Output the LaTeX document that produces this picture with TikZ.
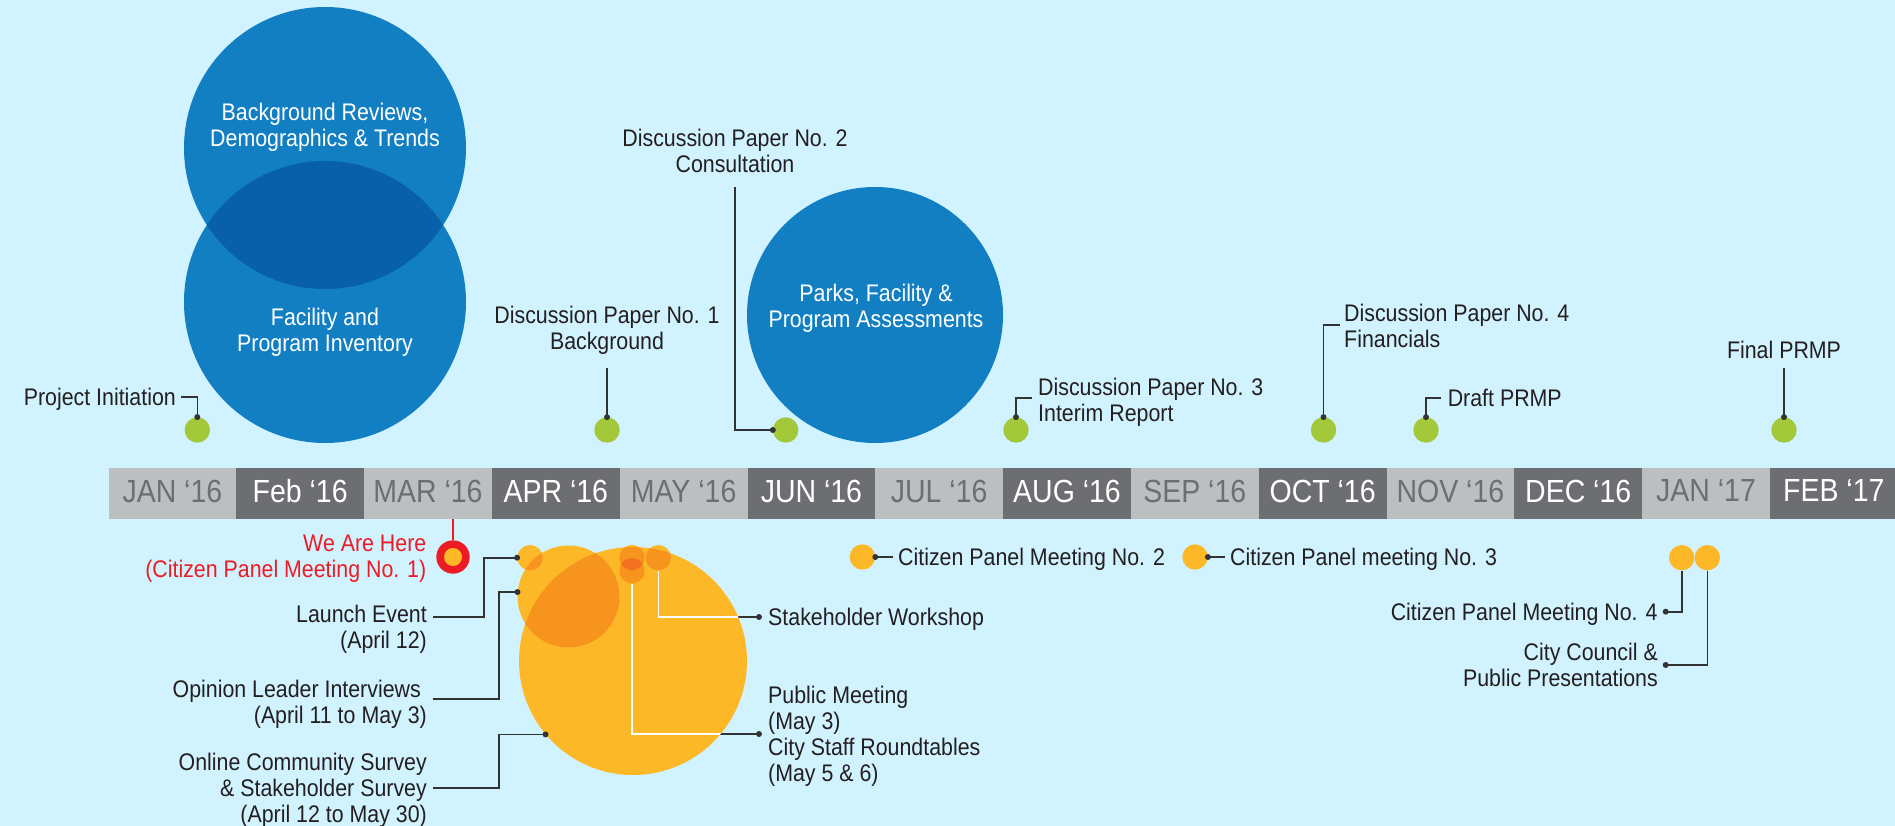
\documentclass[tikz,border=0pt]{standalone}
\usepackage{fontspec}
\setmainfont{Liberation Sans}[FakeStretch=0.89]
\definecolor{bgc}{HTML}{D1F2FF}
\definecolor{blu}{HTML}{127FC3}
\definecolor{blud}{HTML}{0760A9}
\definecolor{grn}{HTML}{A3C93A}
\definecolor{yel}{HTML}{FDB827}
\definecolor{org}{HTML}{F7941D}
\definecolor{orgd}{HTML}{F37021}
\definecolor{barL}{HTML}{BCBEC0}
\definecolor{barD}{HTML}{6D6E71}
\definecolor{redc}{HTML}{ED1C24}
\definecolor{ink}{HTML}{231F20}
\definecolor{linec}{HTML}{333333}
\begin{document}
\begin{tikzpicture}[x=1pt,y=-1pt,
  lbl/.style={font=\fontsize{24}{26}\selectfont, inner sep=0pt, text=ink},
  mon/.style={font=\fontsize{32}{36}\selectfont, inner sep=0pt, anchor=north},
  gdot/.style={circle, fill=grn, minimum size=25.4pt, inner sep=0pt},
  ydot/.style={circle, fill=yel, minimum size=25.4pt, inner sep=0pt},
  lead/.style={draw=linec, line width=1.6pt},
  wlead/.style={draw=white, line width=1.6pt},
  enddot/.style={fill=linec},
]
\useasboundingbox (0,0) rectangle (1895,826);
\clip (0,0) rectangle (1895,826);
\fill[bgc] (0,0) rectangle (1895,826);

% timeline bar
\foreach \m/\f/\t [count=\i from 0] in {JAN ‘16/barL/barD, Feb ‘16/barD/white, MAR ‘16/barL/barD, APR ‘16/barD/white, MAY ‘16/barL/barD, JUN ‘16/barD/white, JUL ‘16/barL/barD, AUG ‘16/barD/white, SEP ‘16/barL/barD, OCT ‘16/barD/white, NOV ‘16/barL/barD, DEC ‘16/barD/white, JAN ‘17/barL/barD, FEB ‘17/barD/white}{
  \fill[\f] ({108.5+\i*127.8},468) rectangle ++(127.8,51);
  \node[mon, text=\t] (m\i) at ({108.5+\i*127.8+63.9},479.5) {\m};
}

% blue circles
\node[circle, fill=blu, minimum size=282pt, inner sep=0pt] (c1) at (325,148) {};
\node[circle, fill=blu, minimum size=282pt, inner sep=0pt] (c2) at (325,302) {};
\begin{scope}
  \clip (c1.center) circle[radius=141pt];
  \fill[blud] (c2.center) circle[radius=141pt];
\end{scope}
\node[circle, fill=blu, minimum size=256pt, inner sep=0pt] (c3) at (875,315) {};

\node[lbl, text=white, align=center, anchor=north] (t1) at (325,103.2) {Background Reviews,\\Demographics \& Trends};
\node[lbl, text=white, align=center, anchor=north] (t2) at (325,308.2) {Facility and\\Program Inventory};
\node[lbl, text=white, align=center, anchor=north] (t3) at (876,284.2) {Parks, Facility \&\\Program Assessments};

% green milestone dots
\node[gdot] (pi) at (197.3,430) {};
\node[gdot] (dp1) at (607,430) {};
\node[gdot] (dp2) at (785.7,430) {};
\node[gdot] (dp3) at (1016,430) {};
\node[gdot] (dp4) at (1323.5,430) {};
\node[gdot] (dr) at (1426,430) {};
\node[gdot] (fi) at (1784,430) {};

\coordinate (pie) at (181,397);
\coordinate (dp1e) at (607,368);
\coordinate (dp2e) at (735,187);
\coordinate (dp3e) at (1032,398);
\coordinate (dp4e) at (1340,325);
\coordinate (dre) at (1441,398);
\coordinate (fie) at (1784,368);

\draw[lead] (pi.north) |- (pie);
\draw[lead] (dp1.north) -- (dp1e);
\draw[lead] (dp2e) |- (dp2.west);
\draw[lead] (dp3.north) |- (dp3e);
\draw[lead] (dp4.north) |- (dp4e);
\draw[lead] (dr.north) |- (dre);
\draw[lead] (fi.north) -- (fie);
\foreach \p in {pi.north, dp1.north, dp2.west, dp3.north, dp4.north, dr.north, fi.north}
  \fill[enddot] (\p) circle[radius=3pt];

\node[lbl, anchor=north east] (tpi) at (176,388.2) {Project Initiation};
\node[lbl, align=center, anchor=north] (tdp1) at (607,306.2) {Discussion Paper No. 1\\Background};
\node[lbl, align=center, anchor=north] (tdp2) at (735,129.2) {Discussion Paper No. 2\\Consultation};
\node[lbl, align=left, anchor=north west] (tdp3) at (1038,378.2) {Discussion Paper No. 3\\Interim Report};
\node[lbl, align=left, anchor=north west] (tdp4) at (1344,304.2) {Discussion Paper No. 4\\Financials};
\node[lbl, anchor=north west] (tdr) at (1447.6,389.2) {Draft PRMP};
\node[lbl, anchor=north] (tfi) at (1784,341.2) {Final PRMP};

% We are here marker
\coordinate (wtop) at (453,519);
\node[circle, fill=redc, minimum size=33.4pt, inner sep=0pt] (wah) at (453,557) {};
\draw[draw=redc, line width=2pt] (wtop) -- (wah.north);
\fill[yel] (wah.center) circle[radius=9pt];
\node[lbl, text=redc, align=right, anchor=north east] (twah) at (426.5,535.2) {We Are Here\\(Citizen Panel Meeting No. 1)};

% engagement cluster
\node[circle, fill=yel, minimum size=228pt, inner sep=0pt] (B) at (633,661) {};
\node[circle, fill=yel, minimum size=102pt, inner sep=0pt] (M) at (568.5,596.5) {};
\node[ydot] (L) at (530,557.7) {};
\node[ydot] (P1) at (632,557.5) {};
\node[ydot] (P2) at (632,570.8) {};
\node[ydot] (S) at (658.3,557.7) {};
\begin{scope}
  \clip (B.center) circle[radius=114pt];
  \fill[org] (M.center) circle[radius=51pt];
  \fill[org] (P1.center) circle[radius=12.7pt];
  \fill[org] (P2.center) circle[radius=12.7pt];
  \fill[org] (S.center) circle[radius=12.7pt];
\end{scope}
\begin{scope}
  \clip (M.center) circle[radius=51pt];
  \fill[org] (L.center) circle[radius=12.7pt];
\end{scope}
\begin{scope}
  \clip (P1.center) circle[radius=12.7pt];
  \fill[orgd] (P2.center) circle[radius=12.7pt];
\end{scope}

\coordinate (la1) at (484,617);
\coordinate (la2) at (433,617);
\coordinate (ol1) at (499,699);
\coordinate (ol2) at (433,699);
\coordinate (on1) at (499,788);
\coordinate (on2) at (433,788);
\coordinate (sw) at (759,617);
\coordinate (pm) at (759,734);

\draw[lead] (L.west) -| (la1) -- (la2);
\draw[lead] (M.175) -| (ol1) -- (ol2);
\draw[lead] (B.220) -| (on1) -- (on2);
\draw[lead] (S.south) |- (sw);
\draw[lead] (P2.south) |- (pm);
\begin{scope}
  \clip (B.center) circle[radius=114pt];
  \draw[wlead] (S.south) |- (sw);
  \draw[wlead] (P2.south) |- (pm);
\end{scope}
\foreach \p in {L.west, M.175, B.220, sw, pm}
  \fill[enddot] (\p) circle[radius=3pt];

\node[lbl, align=right, anchor=north east] (tla) at (427,605.2) {Launch Event\\(April 12)};
\node[lbl, align=right, anchor=north east] (tol) at (427,680.2) {Opinion Leader Interviews\hspace*{6pt}\\(April 11 to May 3)};
\node[lbl, align=right, anchor=north east] (ton) at (427,753.2) {Online Community Survey\\\& Stakeholder Survey\\(April 12 to May 30)};
\node[lbl, anchor=north west] (tsw) at (768,608.2) {Stakeholder Workshop};
\node[lbl, align=left, anchor=north west] (tpm) at (768,686.2) {Public Meeting\\(May 3)\\City Staff Roundtables\\(May 5 \& 6)};

% citizen panel meetings
\node[ydot] (cp2) at (862.4,557) {};
\node[ydot] (cp3) at (1195,557) {};
\node[ydot] (cp4) at (1681.7,557.7) {};
\node[ydot] (cc) at (1707.3,557.7) {};
\coordinate (cp2e) at (893,557);
\coordinate (cp3e) at (1224.5,557);
\coordinate (cp4e) at (1665.7,611.7);
\coordinate (cce) at (1665.7,665);
\draw[lead] (cp2.east) -- (cp2e);
\draw[lead] (cp3.east) -- (cp3e);
\draw[lead] (cp4.south) |- (cp4e);
\draw[lead] (cc.south) |- (cce);
\foreach \p in {cp2.east, cp3.east, cp4e, cce}
  \fill[enddot] (\p) circle[radius=3pt];

\node[lbl, anchor=north west] (tc2) at (898,548.2) {Citizen Panel Meeting No. 2};
\node[lbl, anchor=north west] (tc3) at (1230,548.2) {Citizen Panel meeting No. 3};
\node[lbl, anchor=north east] (tc4) at (1657.7,603.2) {Citizen Panel Meeting No. 4};
\node[lbl, align=right, anchor=north east] (tcc) at (1658,643.2) {City Council \&\\Public Presentations};
\end{tikzpicture}
\end{document}
